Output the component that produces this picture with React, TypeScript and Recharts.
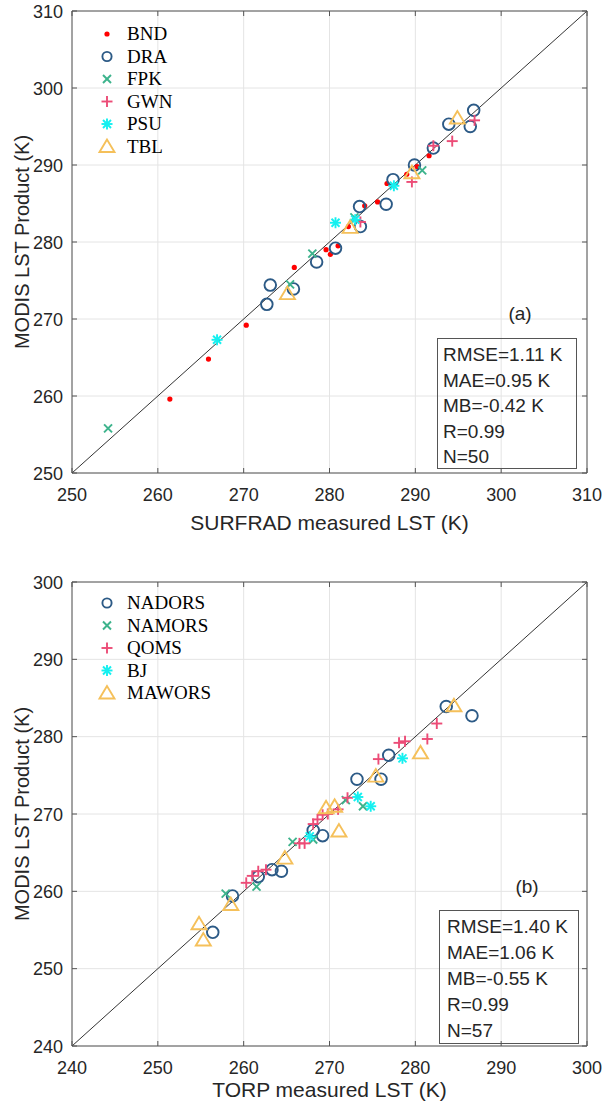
import React from 'react';
import {
  ScatterChart, Scatter, XAxis, YAxis, CartesianGrid, ReferenceLine, ReferenceArea, Legend,
} from 'recharts';

// ---------- Panel (a): SURFRAD ----------
const ticksA = [250, 260, 270, 280, 290, 300, 310];
const bndX = [261.4, 265.9, 270.3, 275.9, 279.6, 280.1, 281.0, 282.2, 284.1, 285.6, 286.7, 289.0, 290.2, 291.6];
const bndY = [259.6, 264.8, 269.2, 276.7, 279.0, 278.4, 279.5, 282.0, 284.7, 285.2, 287.6, 288.8, 289.8, 291.2];
const draX = [296.8, 293.9, 296.4, 292.1, 289.9, 287.4, 286.6, 283.5, 283.6, 280.7, 278.5, 273.1, 275.8, 272.7];
const draY = [297.1, 295.3, 295.0, 292.2, 290.0, 288.1, 284.9, 284.6, 282.0, 279.2, 277.4, 274.4, 273.9, 271.9];
const fpkX = [254.2, 275.4, 278.0, 282.9, 290.8];
const fpkY = [255.8, 274.5, 278.5, 283.2, 289.3];
const gwnX = [296.9, 294.3, 292.1, 289.6, 283.6];
const gwnY = [295.8, 293.1, 292.5, 287.8, 282.6];
const psuX = [287.5, 280.7, 283.0, 266.9];
const psuY = [287.3, 282.5, 282.9, 267.3];
const tblX = [294.9, 289.6, 282.4, 275.1];
const tblY = [296.1, 289.0, 281.9, 273.3];
const statsA = ['RMSE=1.11 K', 'MAE=0.95 K', 'MB=-0.42 K', 'R=0.99', 'N=50'];

// ---------- Panel (b): TORP ----------
const ticksB = [240, 250, 260, 270, 280, 290, 300];
const nadX = [283.6, 286.6, 276.9, 273.2, 276.0, 268.1, 269.2, 261.7, 263.3, 264.4, 258.7, 256.4];
const nadY = [283.9, 282.7, 277.6, 274.5, 274.5, 267.9, 267.2, 261.9, 262.8, 262.6, 259.4, 254.7];
const namX = [257.9, 261.5, 265.7, 268.1, 271.9, 273.9];
const namY = [259.7, 260.6, 266.4, 266.7, 271.8, 271.0];
const qomX = [260.3, 261.0, 261.7, 262.6, 266.5, 267.1, 268.1, 268.6, 269.2, 269.8, 271.0, 272.1, 275.7, 278.1, 278.8, 281.4, 282.5];
const qomY = [261.1, 262.0, 262.6, 262.8, 266.2, 266.2, 268.7, 269.3, 269.9, 270.0, 270.6, 272.1, 277.1, 279.2, 279.4, 279.7, 281.7];
const bjX = [278.5, 273.3, 274.8, 267.7];
const bjY = [277.2, 272.2, 271.0, 267.1];
const mawX = [254.8, 255.3, 258.5, 264.8, 269.6, 270.6, 271.1, 275.4, 280.6, 284.5];
const mawY = [255.8, 253.7, 258.3, 264.3, 270.8, 271.0, 267.8, 274.9, 277.9, 284.0];
const statsB = ['RMSE=1.40 K', 'MAE=1.06 K', 'MB=-0.55 K', 'R=0.99', 'N=57'];

const RED = '#FF0000';
const BLUE = '#2C5A86';
const GREEN = '#3DB38C';
const PINK = '#EC4C77';
const CYAN = '#14F0F0';
const ORANGE = '#F5C05A';
const AX = '#555555';
const TXT = '#262626';
const SANS = '"Liberation Sans", Arial, sans-serif';
const SERIF = '"Liberation Serif", "Times New Roman", serif';

type Kind = 'dot' | 'ring' | 'x' | 'plus' | 'star' | 'tri';

const Marker = ({ cx, cy, kind, color, legend }: { cx: number; cy: number; kind: Kind; color: string; legend?: boolean }) => {
  const sw = 1.9;
  if (kind === 'dot') return <circle cx={cx} cy={cy} r={2.6} fill={color} />;
  if (kind === 'ring') return <circle cx={cx} cy={cy} r={legend ? 4.6 : 5.8} fill="none" stroke={color} strokeWidth={sw} />;
  if (kind === 'x') {
    const s = 4;
    return (
      <g stroke={color} strokeWidth={sw}>
        <line x1={cx - s} y1={cy - s} x2={cx + s} y2={cy + s} />
        <line x1={cx - s} y1={cy + s} x2={cx + s} y2={cy - s} />
      </g>
    );
  }
  if (kind === 'plus') {
    const s = 5.5;
    return (
      <g stroke={color} strokeWidth={sw}>
        <line x1={cx - s} y1={cy} x2={cx + s} y2={cy} />
        <line x1={cx} y1={cy - s} x2={cx} y2={cy + s} />
      </g>
    );
  }
  if (kind === 'star') {
    const s = 5.5;
    const d = 4;
    return (
      <g stroke={color} strokeWidth={sw}>
        <line x1={cx - s} y1={cy} x2={cx + s} y2={cy} />
        <line x1={cx} y1={cy - s} x2={cx} y2={cy + s} />
        <line x1={cx - d} y1={cy - d} x2={cx + d} y2={cy + d} />
        <line x1={cx - d} y1={cy + d} x2={cx + d} y2={cy - d} />
      </g>
    );
  }
  const w = 7.5;
  return (
    <polygon
      points={`${cx},${cy - 7} ${cx - w},${cy + 5.5} ${cx + w},${cy + 5.5}`}
      fill="none"
      stroke={color}
      strokeWidth={sw}
      strokeLinejoin="miter"
    />
  );
};

type Series = { name: string; xs: number[]; ys: number[]; color: string; kind: Kind };

const seriesA: Series[] = [
  { name: 'BND', xs: bndX, ys: bndY, color: RED, kind: 'dot' },
  { name: 'DRA', xs: draX, ys: draY, color: BLUE, kind: 'ring' },
  { name: 'FPK', xs: fpkX, ys: fpkY, color: GREEN, kind: 'x' },
  { name: 'GWN', xs: gwnX, ys: gwnY, color: PINK, kind: 'plus' },
  { name: 'PSU', xs: psuX, ys: psuY, color: CYAN, kind: 'star' },
  { name: 'TBL', xs: tblX, ys: tblY, color: ORANGE, kind: 'tri' },
];

const seriesB: Series[] = [
  { name: 'NADORS', xs: nadX, ys: nadY, color: BLUE, kind: 'ring' },
  { name: 'NAMORS', xs: namX, ys: namY, color: GREEN, kind: 'x' },
  { name: 'QOMS', xs: qomX, ys: qomY, color: PINK, kind: 'plus' },
  { name: 'BJ', xs: bjX, ys: bjY, color: CYAN, kind: 'star' },
  { name: 'MAWORS', xs: mawX, ys: mawY, color: ORANGE, kind: 'tri' },
];

const toData = (xs: number[], ys: number[]) => xs.map((x, i) => ({ x, y: ys[i] }));

const W = 605;
const H = 553;
const LEFT = 72;
const RIGHT = 18;

const makeXTick = (plotH: number) => (props: any) => {
  const { x, y, payload } = props;
  return (
    <g>
      <line x1={x} x2={x} y1={y} y2={y - 5} stroke={AX} />
      <line x1={x} x2={x} y1={y - plotH} y2={y - plotH + 5} stroke={AX} />
      <text x={x} y={y + 28} textAnchor="middle" fontSize={18} fill={TXT} fontFamily={SANS}>
        {payload.value}
      </text>
    </g>
  );
};

const makeYTick = (plotW: number) => (props: any) => {
  const { x, y, payload } = props;
  return (
    <g>
      <line x1={x} x2={x + 5} y1={y} y2={y} stroke={AX} />
      <line x1={x + plotW} x2={x + plotW - 5} y1={y} y2={y} stroke={AX} />
      <text x={x - 9} y={y + 6.5} textAnchor="end" fontSize={18} fill={TXT} fontFamily={SANS}>
        {payload.value}
      </text>
    </g>
  );
};

const LegendBox = ({ series }: { series: Series[] }) => (
  <svg width={130} height={series.length * 22.5 + 10} style={{ display: 'block' }}>
    {series.map((s, i) => {
      const cy = 12 + i * 22.5;
      return (
        <g key={s.name}>
          <Marker cx={12} cy={cy} kind={s.kind} color={s.color} legend />
          <text x={32} y={cy + 6.3} fontSize={19} fontFamily={SERIF} fill="#000">
            {s.name}
          </text>
        </g>
      );
    })}
  </svg>
);

type PanelProps = {
  series: Series[];
  ticks: number[];
  top: number;
  xAxisH: number;
  xTitle: string;
  xTitleOffset: number;
  legendTop: number;
};

const Panel = ({ series, ticks, top, xAxisH, xTitle, xTitleOffset, legendTop }: PanelProps) => {
  const lo = ticks[0];
  const hi = ticks[ticks.length - 1];
  const plotH = H - top - xAxisH;
  const plotW = W - LEFT - RIGHT;
  const midY = top + plotH / 2;
  return (
    <ScatterChart width={W} height={H} margin={{ top, right: RIGHT, bottom: 0, left: 0 }}>
      <CartesianGrid stroke="#e4e4e4" strokeWidth={1} />
      <XAxis
        type="number"
        dataKey="x"
        domain={[lo, hi]}
        ticks={ticks}
        allowDataOverflow
        height={xAxisH}
        axisLine={false}
        tickLine={false}
        tickSize={0}
        tickMargin={0}
        tick={makeXTick(plotH)}
        interval={0}
        label={{
          value: xTitle,
          position: 'insideBottom',
          offset: xTitleOffset,
          style: { fontSize: 21, fontFamily: SANS, fill: TXT },
        }}
      />
      <YAxis
        type="number"
        dataKey="y"
        domain={[lo, hi]}
        ticks={ticks}
        allowDataOverflow
        width={LEFT}
        axisLine={false}
        tickLine={false}
        tickSize={0}
        tickMargin={0}
        tick={makeYTick(plotW)}
        interval={0}
        label={{
          content: () => (
            <text
              x={22}
              y={midY}
              transform={`rotate(-90, 22, ${midY})`}
              textAnchor="middle"
              dominantBaseline="central"
              fontSize={20}
              fontFamily={SANS}
              fill={TXT}
            >
              MODIS LST Product (K)
            </text>
          ),
        }}
      />
      <ReferenceArea x1={lo} x2={hi} y1={lo} y2={hi} fill="none" stroke={AX} strokeWidth={1} ifOverflow="visible" />
      <ReferenceLine
        segment={[{ x: lo, y: lo }, { x: hi, y: hi }]}
        stroke="#333333"
        strokeWidth={1}
        ifOverflow="visible"
      />
      {series.map((s) => (
        <Scatter
          key={s.name}
          name={s.name}
          data={toData(s.xs, s.ys)}
          isAnimationActive={false}
          fill={s.color}
          shape={(p: any) => <Marker cx={p.cx} cy={p.cy} kind={s.kind} color={s.color} />}
        />
      ))}
      <Legend
        layout="vertical"
        align="center"
        verticalAlign="middle"
        wrapperStyle={{ left: 95, top: legendTop, width: 130 }}
        content={() => <LegendBox series={series} />}
      />
    </ScatterChart>
  );
};

const StatsBox = ({ lines, left, top, width, height, padTop, padLeft, lineH }: {
  lines: string[]; left: number; top: number; width: number; height: number; padTop: number; padLeft: number; lineH: number;
}) => (
  <div
    style={{
      position: 'absolute',
      left,
      top,
      width,
      height,
      boxSizing: 'border-box',
      border: `1px solid ${AX}`,
      paddingTop: padTop,
      paddingLeft: padLeft,
      fontFamily: SANS,
      fontSize: 19,
      color: TXT,
      background: 'transparent',
    }}
  >
    {lines.map((l) => (
      <div key={l} style={{ height: lineH, lineHeight: `${lineH}px`, whiteSpace: 'nowrap' }}>
        {l}
      </div>
    ))}
  </div>
);

const PanelTag = ({ text, cx, cy }: { text: string; cx: number; cy: number }) => (
  <div
    style={{
      position: 'absolute',
      left: cx - 30,
      top: cy - 13,
      width: 60,
      height: 26,
      lineHeight: '26px',
      textAlign: 'center',
      fontFamily: SANS,
      fontSize: 19,
      color: TXT,
    }}
  >
    {text}
  </div>
);

export default function App() {
  return (
    <div style={{ position: 'absolute', left: 0, top: 0, width: W, height: 1106, background: '#fff', overflow: 'hidden' }}>
      <div style={{ position: 'absolute', left: 0, top: 0 }}>
        <Panel
          series={seriesA}
          ticks={ticksA}
          top={11}
          xAxisH={80}
          xTitle="SURFRAD measured LST (K)"
          xTitleOffset={23}
          legendTop={22}
        />
      </div>
      <div style={{ position: 'absolute', left: 0, top: 553 }}>
        <Panel
          series={seriesB}
          ticks={ticksB}
          top={29}
          xAxisH={60}
          xTitle="TORP measured LST (K)"
          xTitleOffset={9}
          legendTop={38}
        />
      </div>
      <PanelTag text="(a)" cx={520} cy={314} />
      <StatsBox lines={statsA} left={437} top={338} width={140} height={131} padTop={3} padLeft={5} lineH={25.6} />
      <PanelTag text="(b)" cx={527} cy={887} />
      <StatsBox lines={statsB} left={439} top={910} width={140} height={134} padTop={3} padLeft={7} lineH={26} />
    </div>
  );
}
